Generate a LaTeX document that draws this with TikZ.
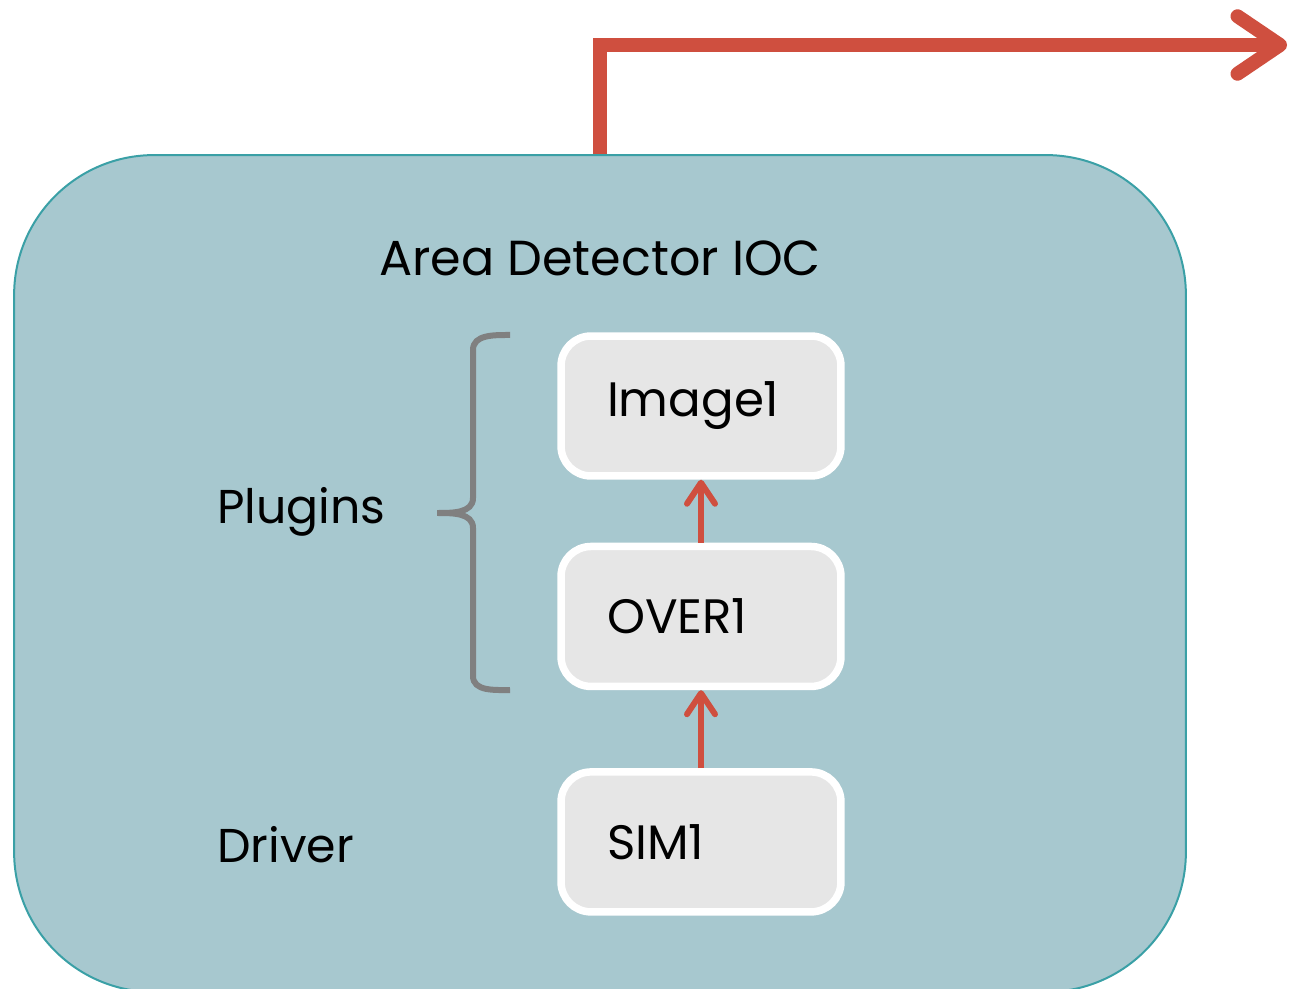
\documentclass[tikz,border=0pt]{standalone}
\usepackage{fontspec}
\setmainfont{Poppins}
\usetikzlibrary{
  positioning,
  arrows.meta
}
\definecolor{iocfill}{RGB}{167,200,207}
\definecolor{iocline}{RGB}{58,160,166}
\definecolor{flowred}{RGB}{207,79,63}
\definecolor{plugfill}{RGB}{230,230,230}
\definecolor{bracegray}{RGB}{128,128,128}
\tikzset{
  ioc/.style={draw=iocline, fill=iocfill, line width=0.04cm, rounded corners=2.8cm,
    minimum width=23.44cm, minimum height=16.74cm, inner sep=0pt},
  plugin/.style={draw=white, fill=plugfill, line width=0.15cm, rounded corners=0.6cm,
    minimum height=2.8cm, text width=3.76cm, inner xsep=0.92cm, inner ysep=0pt,
    align=left, font=\fontsize{27.5}{32}\selectfont},
  sidetext/.style={font=\fontsize{27}{32}\selectfont, inner sep=0pt},
  link/.style={flowred, line width=0.12cm,
    -{Straight Barb[length=0.42cm, width=0.56cm, line cap=round, line join=round]}},
  flow/.style={flowred, line width=0.28cm,
    -{Straight Barb[length=0.85cm, width=1.15cm, line cap=round, line join=round]}},
  grouping/.style={bracegray, line width=0.12cm}
}

\begin{document}
\begin{tikzpicture}[x=0.02cm, y=-0.02cm]
    \useasboundingbox (0,0) rectangle (1291,989);
    % outer IOC box
    \node[ioc] (ioc) at (600,573.5) {};
    \node[sidetext, font=\fontsize{28}{33}\selectfont] (title) at (600,258) {Area Detector IOC};
    % plugin chain
    \node[plugin] (image) at (701,406) {Image1};
    \node[plugin, below=1.26cm of image] (over) {OVER1};
    \node[plugin, below=1.56cm of over] (sim) {SIM1};
    \draw[link] (sim) -- (over);
    \draw[link] (over) -- (image);
    % side labels
    \node[sidetext, anchor=west] (plugins) at (217,512) {Plugins};
    \node[sidetext, anchor=west] (driver) at (217,845) {Driver};
    \draw[grouping] (510,335) to[out=180,in=90] (473,350) -- (473,498)
      to[out=270,in=0] (437,513) to[out=0,in=90] (473,528) -- (473,676)
      to[out=270,in=180] (510,690);
    % output
    \coordinate (exit) at (1287,45);
    \draw[flow] (ioc.north) |- (exit);
\end{tikzpicture}
\end{document}
